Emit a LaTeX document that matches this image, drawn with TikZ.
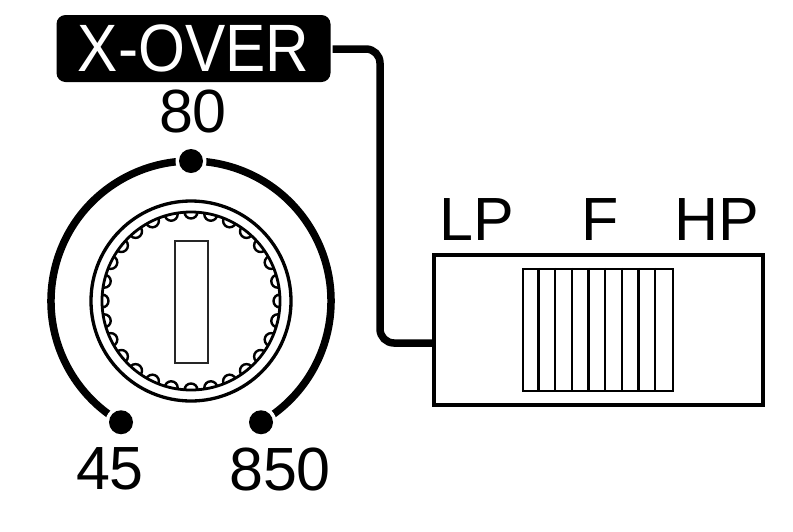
\documentclass[tikz,border=0pt]{standalone}
\usepackage{fontspec}
\setmainfont{Liberation Sans}
\usetikzlibrary{calc}
\begin{document}
\begin{tikzpicture}[x=1pt,y=1pt,
  lbl/.style={inner sep=0pt, font=\fontsize{61}{61}\selectfont},
  thick line/.style={line width=7.5pt},
  dotmark/.style={circle, fill=black, inner sep=0pt, minimum size=24pt},
  gapmark/.style={circle, fill=white, inner sep=0pt, minimum size=31pt}]
\useasboundingbox[fill=white] (0,0) rectangle (793,-531);

% X-OVER label
\node[fill=black, rounded corners=9pt, minimum width=274pt, minimum height=67pt, inner sep=0pt,
      text=white, font=\fontsize{67}{67}\selectfont] (xover) at (193.5,-48.5)
      {\scalebox{0.9}[1]{X-OVER}};

% switch
\node[draw, line width=3.5pt, minimum width=329pt, minimum height=150pt, inner sep=0pt] (sw) at (598.5,-330) {};
\node[draw, line width=2.5pt, minimum width=150pt, minimum height=122pt, inner sep=0pt] (slider) at (598,-330) {};
\foreach \k in {1,...,8}
  \draw[line width=2.5pt] ([xshift=\k*16.667pt]slider.north west) -- ([xshift=\k*16.667pt]slider.south west);
\node[lbl] (lp) at (477,-220) {LP};
\node[lbl] (f) at (600,-220) {F};
\node[lbl] (hp) at (717,-220) {HP};

% connector
\coordinate (swin) at (sw.west |- 0,-343);
\draw[thick line, rounded corners=14pt] ([xshift=2pt]xover.east |- 0,-49) -- (380,-49) -- (380,-343) -- (swin);

% knob
\coordinate (kc) at (191,-301);
\draw[thick line] (kc) ++(-60:140) arc[start angle=-60, end angle=240, radius=140];
\node[gapmark] at ($(kc)+(90:140)$) {};
\node[gapmark] at ($(kc)+(240:140)$) {};
\node[gapmark] at ($(kc)+(300:140)$) {};
\node[dotmark] (d80) at ($(kc)+(90:140)$) {};
\node[dotmark] (d45) at ($(kc)+(240:140)$) {};
\node[dotmark] (d850) at ($(kc)+(300:140)$) {};
\node[lbl] (t80) at (193,-111) {80};
\node[lbl] (t45) at (110,-469) {45};
\node[lbl] (t850) at (280,-469) {850};

\node[draw, circle, line width=3.3pt, minimum size=200pt, inner sep=0pt] (knob) at (kc) {};
\draw[line width=2.8pt] (kc) circle[radius=89];
\begin{scope}
  \clip (kc) circle[radius=89];
  \foreach \a in {0,12.857,...,359}
    \draw[line width=2.4pt] ($(kc)+(90+\a:89)$) circle[radius=6.5];
\end{scope}
\node[draw=black!85, line width=2pt, minimum width=33pt, minimum height=122pt, inner sep=0pt] (slot) at (191.5,-302) {};
\end{tikzpicture}
\end{document}
